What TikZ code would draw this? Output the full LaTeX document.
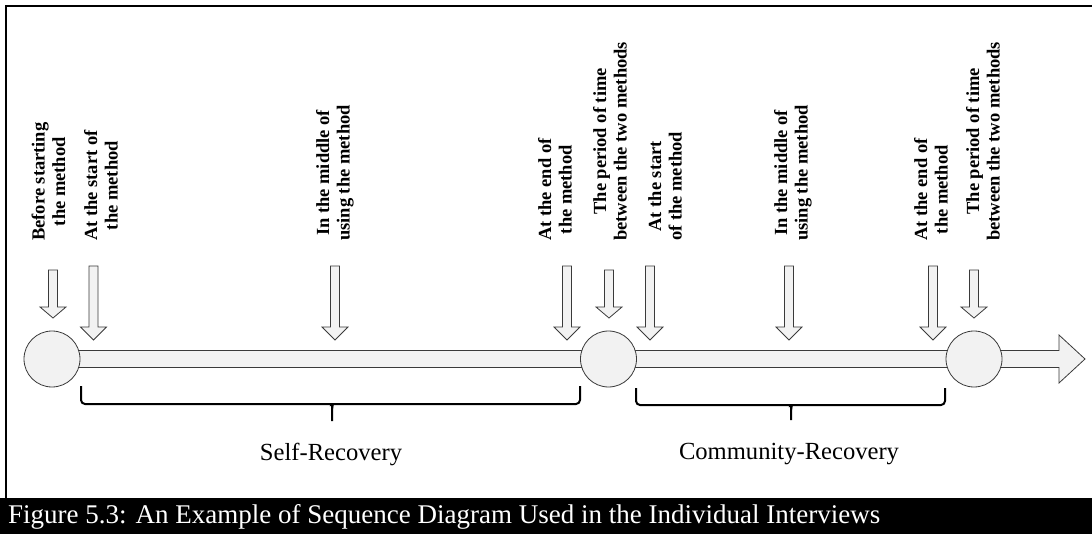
\documentclass[tikz,border=0pt]{standalone}
\usepackage{fontspec}
\setmainfont{Liberation Serif}
\usetikzlibrary{calc,backgrounds}
\definecolor{pale}{HTML}{F2F2F2}
\definecolor{edge}{HTML}{3A3A3A}
\begin{document}
\begin{tikzpicture}[x=1pt,y=1pt,
  blockfill/.style={fill=pale,draw=edge,line width=0.8pt,line join=miter},
  stage/.style={circle,minimum size=56pt,inner sep=0pt,fill=pale,draw=edge,line width=0.8pt},
  lbl/.style={rotate=90,anchor=west,inner sep=0pt,align=center,
    font=\fontsize{18.5}{20.5}\selectfont\bfseries},
  phase/.style={anchor=base,inner sep=0pt,font=\fontsize{24.6}{28}\selectfont},
  brace/.style={line width=2pt,rounded corners=4pt},
  longdown/.pic={\path[blockfill] (-4.5,74) -- (4.5,74) -- (4.5,13) -- (13,13)
    -- (0,0) -- (-13,13) -- (-4.5,13) -- cycle;},
  shortdown/.pic={\path[blockfill] (-4.5,48) -- (4.5,48) -- (4.5,11) -- (13,11)
    -- (0,0) -- (-13,11) -- (-4.5,11) -- cycle;}
]
\useasboundingbox (0,0) rectangle (1092,-534);

% frame and caption strip
\draw[line width=2.2pt] (6,-498) -- (6,-6) -- (1092,-6);
\fill[black] (0,-498) rectangle (1092,-534);
\node[anchor=base west,inner sep=0pt,text=white,font=\fontsize{27}{30}\selectfont]
  (caption) at (8,-523) {Figure 5.3: An Example of Sequence Diagram Used in the Individual Interviews};

% stages on the time line
\node[stage] (c1) at (52,-359) {};
\node[stage] (c2) at (608.5,-359) {};
\node[stage] (c3) at (974,-359) {};
\coordinate (tip) at (1085,-359);

\begin{scope}[on background layer]
  \path[blockfill] ($(c1.center)+(0,8.5)$) rectangle ($(c3.center)+(0,-8.5)$);
  \path[blockfill] ($(c3.center)+(0,8.5)$) -- (1059,-350.5) -- (1059,-335) -- (tip)
    -- (1059,-383) -- (1059,-367.5) -- ($(c3.center)+(0,-8.5)$);
\end{scope}

% moments pointed at
\pic at (53,-318) {shortdown};
\pic at (93.5,-340) {longdown};
\pic at (335,-340) {longdown};
\pic at (567,-340) {longdown};
\pic at (609,-318) {shortdown};
\pic at (650,-340) {longdown};
\pic at (789,-340) {longdown};
\pic at (933,-340) {longdown};
\pic at (974,-318) {shortdown};

% moment labels
\node[lbl] (l1) at (48.5,-241) {Before starting\\the method};
\node[lbl] (l2) at (101,-241) {At the start of\\the method};
\node[lbl] (l3) at (335,-241) {In the middle of\\using the method};
\node[lbl] (l4) at (555,-241) {At the end of\\the method};
\node[lbl] (l5) at (610,-241) {The period of time\\between the two methods};
\node[lbl] (l6) at (665,-241) {At the start\\of the method};
\node[lbl] (l7) at (793,-241) {In the middle of\\using the method};
\node[lbl] (l8) at (931,-241) {At the end of\\the method};
\node[lbl] (l9) at (983,-241) {The period of time\\between the two methods};

% phase braces
\draw[brace] (81,-386) |- (328,-404) to[out=0,in=90] (332,-409) -- (332,-421);
\draw[brace] (332,-409) to[out=90,in=180] (336,-404) -| (580,-386);
\draw[brace] (636,-388) |- (787,-405) to[out=0,in=90] (791,-410) -- (791,-420);
\draw[brace] (791,-410) to[out=90,in=180] (795,-405) -| (945,-388);

\node[phase] (self) at (331,-460) {Self-Recovery};
\node[phase] (community) at (789,-459) {Community-Recovery};
\end{tikzpicture}
\end{document}
